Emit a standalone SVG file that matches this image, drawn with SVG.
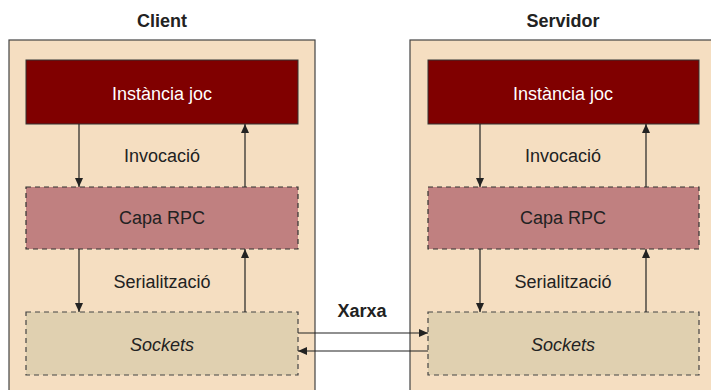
<svg xmlns="http://www.w3.org/2000/svg" width="711" height="390" viewBox="0 0 711 390">
<style>
text{font-family:"Liberation Sans",Arial,sans-serif;font-size:18px;fill:#222;text-anchor:middle}
.title{font-weight:bold}
.panel{fill:#F5DEC1;stroke:#444;stroke-width:1.2}
.inst{fill:#800000;stroke:#333;stroke-width:1}
.rpc{fill:#C08080;stroke:#333;stroke-width:1.2;stroke-dasharray:5,4}
.sock{fill:#E0D0B0;stroke:#444;stroke-width:1.2;stroke-dasharray:5,4}
.w{fill:#fff}
.it{font-style:italic}
.c line{stroke:#222;stroke-width:1.2;marker-end:url(#ah)}
</style>
<defs>
<marker id="ah" markerWidth="10" markerHeight="10" refX="9" refY="5" orient="auto" markerUnits="userSpaceOnUse">
<path d="M0,1 L9,5 L0,9 Z" fill="#222"/>
</marker>
</defs>
<g id="client">
<rect class="panel" x="9" y="40" width="306" height="360"/>
<text class="title" x="162" y="27">Client</text>
</g>
<g id="servidor">
<rect class="panel" x="410" y="40" width="310" height="360"/>
<text class="title" x="563" y="27">Servidor</text>
</g>
<g id="client-instancia">
<rect class="inst" x="26" y="60" width="272" height="64"/>
<text class="w" x="162" y="100">Instància joc</text>
</g>
<g id="client-rpc">
<rect class="rpc" x="26" y="187" width="272" height="62"/>
<text x="162" y="224">Capa RPC</text>
</g>
<g id="client-sockets">
<rect class="sock" x="26" y="312" width="272" height="63"/>
<text class="it" x="162" y="351">Sockets</text>
</g>
<g id="server-instancia">
<rect class="inst" x="428" y="60" width="271" height="64"/>
<text class="w" x="563" y="100">Instància joc</text>
</g>
<g id="server-rpc">
<rect class="rpc" x="428" y="187" width="271" height="62"/>
<text x="563" y="224">Capa RPC</text>
</g>
<g id="server-sockets">
<rect class="sock" x="428" y="312" width="271" height="63"/>
<text class="it" x="563" y="351">Sockets</text>
</g>
<g id="labels">
<text x="162" y="162">Invocació</text>
<text x="162" y="288">Serialització</text>
<text x="563" y="162">Invocació</text>
<text x="563" y="288">Serialització</text>
<text class="title" x="362" y="317">Xarxa</text>
</g>
<g id="connectors" class="c">
<line x1="79" y1="124" x2="79" y2="187"/>
<line x1="245" y1="187" x2="245" y2="124"/>
<line x1="79" y1="249" x2="79" y2="312"/>
<line x1="245" y1="312" x2="245" y2="249"/>
<line x1="480" y1="124" x2="480" y2="187"/>
<line x1="646" y1="187" x2="646" y2="124"/>
<line x1="480" y1="249" x2="480" y2="312"/>
<line x1="646" y1="312" x2="646" y2="249"/>
<line x1="298" y1="333" x2="428" y2="333"/>
<line x1="428" y1="351" x2="298" y2="351"/>
</g>
</svg>
